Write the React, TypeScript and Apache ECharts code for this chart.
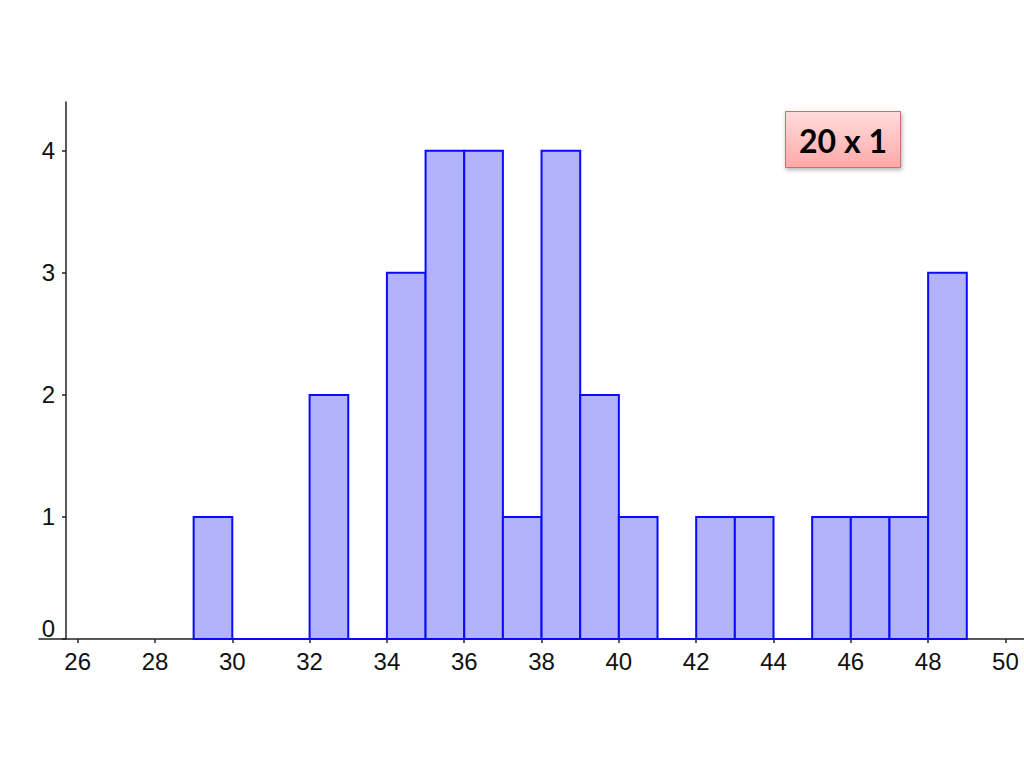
import React, { useEffect, useRef } from "react";
import * as echarts from "echarts";

const binStarts = [29, 30, 31, 32, 33, 34, 35, 36, 37, 38, 39, 40, 41, 42, 43, 44, 45, 46, 47, 48];
const counts = [1, 0, 0, 2, 0, 3, 4, 4, 1, 4, 2, 1, 0, 1, 1, 0, 1, 1, 1, 3];
const binWidth = 1;
const xTicks = [26, 28, 30, 32, 34, 36, 38, 40, 42, 44, 46, 48, 50];
const yTicks = [0, 1, 2, 3, 4];
const boxLabel = "20 x 1";

export default function App() {
  const ref = useRef<HTMLDivElement>(null);
  useEffect(() => {
    if (!ref.current) return;
    const chart = echarts.init(ref.current, undefined, { renderer: "svg" });
    const data = binStarts.map((s, i) => [s, s + binWidth, counts[i]]);
    const axisFont = { fontFamily: "Liberation Sans", fontSize: 24, color: "#111" };
    chart.setOption({
      animation: false,
      backgroundColor: "#fff",
      grid: { left: 39, right: 0, top: 102, bottom: 129 },
      xAxis: {
        type: "value",
        min: 25,
        max: 50.48,
        splitLine: { show: false },
        axisLine: { show: true, onZero: false, lineStyle: { color: "#222", width: 1.5 } },
        axisTick: { show: true, length: 4, customValues: xTicks, lineStyle: { color: "#222", width: 1.5 } },
        axisLabel: { ...axisFont, margin: 10, customValues: xTicks, formatter: (v: number) => String(v) },
      },
      yAxis: {
        type: "value",
        min: 0,
        max: 4.4,
        offset: -27,
        splitLine: { show: false },
        axisLine: { show: true, onZero: false, lineStyle: { color: "#222", width: 1.5 } },
        axisTick: { show: true, length: 4, customValues: yTicks, lineStyle: { color: "#222", width: 1.5 } },
        axisLabel: {
          ...axisFont,
          margin: 11,
          customValues: yTicks,
          formatter: (v: number) => (v === 0 ? "{z|0}" : "{n|" + v + "}"),
          rich: {
            z: { ...axisFont, padding: [0, 0, 22, 0] },
            n: { ...axisFont },
          },
        },
      },
      series: [
        {
          type: "custom",
          data,
          renderItem: (params: any, api: any) => {
            const x0 = api.value(0);
            const x1 = api.value(1);
            const c = api.value(2);
            const p0 = api.coord([x0, 0]);
            const p1 = api.coord([x1, c]);
            return {
              type: "rect",
              shape: { x: p0[0], y: p1[1], width: p1[0] - p0[0], height: p0[1] - p1[1] },
              style: { fill: c > 0 ? "#b3b3fb" : "none", stroke: "#0a0aff", lineWidth: 2 },
            };
          },
        },
      ],
      graphic: [
        {
          type: "group",
          left: 785,
          top: 111,
          children: [
            {
              type: "rect",
              shape: { x: 0, y: 0, width: 115, height: 56 },
              style: {
                fill: new echarts.graphic.LinearGradient(0, 0, 0, 1, [
                  { offset: 0, color: "#ffdcdc" },
                  { offset: 1, color: "#ffa9a9" },
                ]),
                stroke: "#c9706d",
                lineWidth: 1,
                shadowBlur: 4,
                shadowOffsetX: 1,
                shadowOffsetY: 2,
                shadowColor: "rgba(0,0,0,0.3)",
              },
            },
            {
              type: "text",
              x: 57.5,
              y: 29,
              style: {
                text: boxLabel,
                fontFamily: "Lato",
                fontWeight: "bold",
                fontSize: 32,
                fill: "#000",
                align: "center",
                verticalAlign: "middle",
              },
            },
          ],
        },
      ],
    });
    return () => chart.dispose();
  }, []);
  return (
    <div style={{ position: "fixed", left: 0, top: 0, width: 1024, height: 768, background: "#fff" }}>
      <div ref={ref} style={{ width: 1024, height: 768 }} />
    </div>
  );
}
